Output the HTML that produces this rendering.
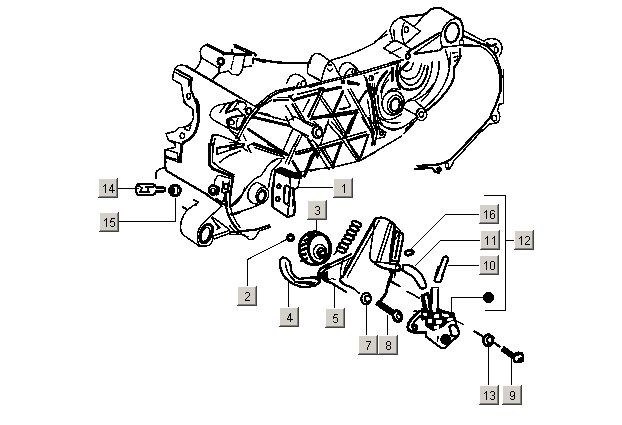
<!DOCTYPE html>
<html><head><meta charset="utf-8">
<style>
html,body{margin:0;padding:0;background:#fff;}
body{width:622px;height:425px;position:relative;overflow:hidden;font-family:"Liberation Sans",sans-serif;}
svg{position:absolute;left:0;top:0;}
svg *{stroke-width:1.55;}
#leaders *{stroke-width:1;}
#leaders .dg{stroke-width:1;}
svg path,svg ellipse,svg circle,svg line,svg polyline{vector-effect:non-scaling-stroke;}
.t{stroke-width:2.3;}
.t3{stroke-width:3;}
.f{fill:#000;}
.d{stroke-dasharray:3 2;}
</style></head><body>
<svg width="622" height="425" viewBox="0 0 622 425" fill="none" stroke="#000" stroke-width="1" stroke-linecap="round" stroke-linejoin="round" shape-rendering="crispEdges">
<!--LEADERS-->
<g id="leaders" stroke-width="1" shape-rendering="crispEdges">
<path d="M118 188.5H139"/>
<path d="M119 221.5H175.5V198"/>
<path d="M334 187.5H296"/>
<path d="M316.5 220V232"/>
<path d="M247.5 287V260"/><path class="dg" d="M247.5 259.5L286.5 239.5"/>
<path d="M288.5 308V281"/>
<path d="M334.5 309V283"/>
<path d="M366.5 336V305"/>
<path d="M387.5 336V315"/>
<path d="M480 214.5H446"/><path class="dg" d="M445.5 214.5L410.5 249.5"/>
<path d="M481 240.5H440.5"/><path class="dg" d="M440.5 240.5L415.5 265.5"/>
<path d="M480 265.5H448"/>
<path d="M484 195.5H505.5V310.5H485"/>
<path d="M505 240.5H515"/>
<path d="M483 297.5H451.5V312"/>
<path d="M488.5 386V346"/>
<path d="M511.5 386V358"/>
</g>
<circle cx="488.5" cy="297.5" r="5.5" fill="#000" stroke="none"/>
<g transform="translate(195,36) scale(0.11290)">
<path class="t3" d="M112,80 L246,147"/>
<path d="M110,76 C80,82 55,100 45,135 L55,190 L185,268 C195,282 212,286 226,276"/>
<ellipse cx="228" cy="225" rx="31" ry="36"/>
<ellipse cx="228" cy="225" rx="19" ry="23"/>
<path d="M246,147 L252,170"/>
<path class="t3" d="M250,155 L490,166"/>
<path class="t" d="M350,78 L535,160 L535,172"/>
<path d="M350,78 L350,95 L490,160"/>
<path d="M390,92 L475,135"/>
<path d="M330,120 L330,150"/>
<path d="M55,190 C50,230 30,270 0,295"/>
<path class="t" d="M0,312 L190,420"/>
<path class="t" d="M216,276 L210,330 L165,378"/>
<path d="M210,330 L300,310 L330,340 L385,345 L415,310 L440,190 L446,170"/>
<path class="d" d="M345,180 L320,292"/>
<path d="M430,275 L500,265"/>
<path d="M515,200 L515,245 M515,205 L560,215 L620,235"/>
</g>
<g transform="translate(150,56) scale(0.14587)">
<path d="M250,70 C225,60 195,62 180,75 C165,90 160,110 155,160 L215,195 L222,245 L235,320 L295,365 L298,425"/>
<path class="t" d="M185,95 L285,150 L280,230 L300,280 L325,340 L328,425"/>
<path d="M172,112 L268,162 L266,205"/>
<ellipse cx="265" cy="276" rx="12" ry="20"/>
<path class="t" d="M250,70 L617,285"/>
</g>
<g transform="translate(150,100) scale(0.14587)">
<path d="M235,0 L245,30 L290,60 L298,120 C295,150 280,170 240,185 L200,190 L175,215 L110,230 L125,275 L170,300 L175,325 L105,340 L100,380 L110,425"/>
<path class="t3" d="M320,0 L335,50 L335,120 C330,180 310,240 270,270 L230,290 L215,310 L210,425"/>
<path d="M240,185 L280,172 L268,210 L235,198"/>
<ellipse cx="222" cy="245" rx="15" ry="18"/>
<path d="M125,275 L175,288 L212,300 M110,340 L185,362 L198,425 M100,380 L150,400 L190,410"/>
<path d="M617,5 L470,35 C440,45 415,70 412,100 C412,120 430,135 450,145 L540,195 L600,260 L617,275"/>
<path d="M520,30 L480,85 M560,25 L520,90 M600,20 L565,75"/>
<path d="M430,240 L470,240 L600,290"/>
<path class="t" d="M430,240 L415,300 L405,425"/>
<path d="M447,262 L432,330 L427,425"/>
<path class="t" d="M460,330 L617,300"/>
<path d="M460,330 L460,372 L617,322"/>
<path d="M480,425 C520,390 570,365 617,350"/>
</g>
<g transform="translate(150,144) scale(0.14587)">
<path d="M100,40 L105,160 C80,165 50,175 40,195 L38,232"/>
<path class="t" d="M40,200 L40,232"/>
<path class="t" d="M215,0 L210,118"/>
<path d="M210,118 L190,122 L108,92"/>
<path class="t" d="M105,160 L112,182 L200,235 L380,340 L400,352"/>
<path class="t3" d="M410,0 L405,140 L430,170 L570,225"/>
<path d="M432,0 L427,120 L460,150 M440,130 L470,160 L575,212"/>
<path d="M470,215 C450,230 440,260 440,285"/>
<ellipse class="t" cx="432" cy="316" rx="28" ry="33"/>
<ellipse cx="432" cy="320" rx="13" ry="16"/>
<path d="M445,285 L475,300 L470,340 L455,350"/>
<path d="M480,215 L545,235 L572,240 L560,300 L545,425"/>
<ellipse class="t" cx="522" cy="292" rx="14" ry="18"/>
<path d="M500,260 L492,330 L520,342 L530,425 M545,250 L535,330"/>
<path class="t" d="M455,375 L500,410 L525,425"/>
<path d="M300,385 L330,395 L315,420"/>
<path class="t" d="M617,370 L560,422"/>
</g>
<g transform="translate(0,0) scale(1.00000)">
<path class="t" d="M139,184 H152 C154,184 155.5,186 156,187.5 L164,187.5 C165.5,188 165.5,191 164,191.5 L156,191.5 C155.5,193 154,195 152,195 H139 C137,195 136,192 136,189.5 C136,187 137,184 139,184Z"/>
<path d="M139,186 L142,188 L141,190 M140,192 H149 M146,187 H153 M148,187 V192"/>
<ellipse class="t3" cx="175" cy="190.5" rx="5.4" ry="5.4"/>
<ellipse class="f" cx="172.6" cy="190.5" rx="1.6" ry="3.6"/>
<path d="M177.5,187.5 V194"/>
</g>
<g transform="translate(230,56) scale(0.14587)">
<path d="M160,15 L160,45"/>
<path class="t" d="M160,18 L330,45 L535,50"/>
<path d="M535,50 L562,0 M535,50 L530,120 L617,165"/>
<path d="M390,185 C400,150 420,125 450,125 C480,125 500,145 520,165"/>
<ellipse cx="505" cy="192" rx="17" ry="20"/>
<path d="M472,180 L455,215 L430,235"/>
<path class="t" d="M150,425 C200,350 260,280 330,250 L430,225 L617,190"/>
<path d="M128,410 C190,330 250,270 320,238 L440,213"/>
<path d="M0,245 L80,290 L170,345 L200,328"/>
<path class="t" d="M300,305 L400,300"/>
<path d="M330,285 L400,285 L432,265 M400,270 L440,310"/>
<path d="M190,385 L260,400 L300,425"/>
</g>
<g transform="translate(230,100) scale(0.14587)">
<path d="M285,0 L200,55 L150,110 L100,190 L60,265 L45,300"/>
<path d="M240,10 L175,55 L125,115 L80,190 L40,262"/>
<path class="t3" d="M160,118 L405,175"/>
<path d="M195,90 L400,145 L408,170"/>
<path class="t3" d="M125,200 L380,370"/>
<path class="t" d="M150,300 L360,375"/>
<path d="M165,295 L365,365 M130,312 L150,300 M120,312 L145,360 M90,240 L110,280"/>
<path d="M0,210 L50,232 M0,290 L90,300"/>
<path class="t" d="M0,330 L80,320 L95,300"/>
<path d="M0,380 L50,360 M80,320 L120,350"/>
<path d="M400,145 L440,115 L590,172 M405,175 L440,200 L540,250"/>
<path d="M290,425 L330,400 L372,400"/>
</g>
<g transform="translate(205,92) scale(0.09646)">
<path class="t" d="M215,215 L340,175"/>
<path d="M330,80 L280,130 L215,215 M270,110 L215,195"/>
<path d="M345,125 C350,98 400,92 422,120 C435,140 425,165 405,178"/>
<ellipse class="t" cx="455" cy="200" rx="27" ry="34"/>
<path class="t" d="M230,320 C220,290 250,265 300,258 L400,240 C420,245 425,265 415,290 L385,360 C370,385 335,395 315,385 L240,350 Z"/>
<ellipse cx="275" cy="315" rx="26" ry="24"/>
<path d="M340,275 C330,300 320,340 330,370 C350,380 375,350 385,320 L410,260"/>
<path d="M340,175 L400,240"/>
</g>
<g transform="translate(230,144) scale(0.14587)">
<path d="M335,100 C300,105 260,140 235,185 L210,220 C170,230 130,270 100,320 C70,370 30,400 0,425"/>
<path d="M355,110 C340,140 300,160 285,190 L270,260 L265,300"/>
<ellipse cx="222" cy="352" rx="42" ry="56" transform="rotate(18 222 352)"/>
<ellipse cx="218" cy="356" rx="28" ry="42" transform="rotate(18 218 356)"/>
<ellipse cx="216" cy="358" rx="20" ry="32" transform="rotate(18 216 358)"/>
<path d="M185,262 C140,280 112,330 125,372 C135,398 160,412 190,410 M185,262 L240,292"/>
<path class="t" d="M310,180 L300,250 L290,425"/>
<path class="f" d="M350,162 L490,215 L485,238 L400,225 L318,192 L312,180Z"/>
<path d="M410,230 L415,300 L440,310 L430,425 M480,230 L465,300 L440,310"/>
<ellipse class="t" cx="335" cy="290" rx="11" ry="13"/>
<ellipse class="t" cx="327" cy="378" rx="12" ry="14"/>
<path class="t" d="M375,292 C385,280 400,285 410,300 L405,400 L385,412 L370,395 Z"/>
<path d="M440,0 L380,130 M460,0 L400,140"/>
<path class="t3" d="M430,120 L490,220 M560,80 L510,220"/>
<path d="M617,170 L555,185 M590,0 L617,60 M560,10 L600,100"/>
<path d="M150,0 L380,70 M170,25 L370,90"/>
<path class="t3" d="M265,0 L390,70"/>
<path d="M120,20 L145,60 M0,75 L50,60 M0,40 L100,10"/>
<path class="t" d="M460,70 L540,50"/>
<path class="t" d="M0,215 L20,225 L10,290 L0,370"/>
</g>
<g transform="translate(150,188) scale(0.14587)">
<path class="t" d="M225,130 L255,150"/>
<path d="M300,80 L332,97 L255,150 C225,190 200,240 212,295 L225,320 L340,400 L400,395 C420,385 430,360 432,340"/>
<path class="t" d="M380,40 L480,108 L490,125"/>
<path d="M490,125 L380,225 C340,260 318,300 325,350 C328,375 335,392 345,400"/>
<ellipse class="t3" cx="385" cy="312" rx="38" ry="68" transform="rotate(22 385 312)"/>
<ellipse cx="380" cy="318" rx="27" ry="50" transform="rotate(22 380 318)"/>
<path d="M430,330 L545,290 M440,350 L560,305 M430,200 L545,285 M425,205 L470,275 M455,250 L480,270 L460,282"/>
<path d="M490,125 L500,90 L520,30"/>
<path class="t" d="M520,30 C510,120 530,220 617,300"/>
<path d="M545,20 C540,110 560,200 617,270"/>
<path d="M617,60 L550,125 M617,170 L560,185"/>
</g>
<g transform="translate(230,188) scale(0.14587)">
<path class="t" d="M290,0 L292,130 L395,200 L440,185 L445,120 L430,0"/>
<path d="M400,130 L395,200 M375,0 L370,95 L395,120 L407,125 L410,0"/>
<path d="M100,0 C90,60 50,110 0,130"/>
<path d="M0,180 C60,165 120,150 175,125 L210,110"/>
<path d="M0,200 C10,240 30,270 60,300 M0,260 C20,290 40,310 70,320"/>
<path class="t" d="M0,300 L60,300 L130,290 L180,285 L270,255"/>
<path d="M270,255 L275,270 L200,295 L185,320 C175,345 150,360 125,350 L100,320 L0,320 M60,300 C80,320 100,335 125,332"/>
<circle style="stroke-width:3.4" cx="415" cy="340" r="19"/>
</g>
<g transform="translate(240,225) scale(0.14587)">
<ellipse class="t3" cx="510" cy="160" rx="104" ry="113"/>
<ellipse class="t3" cx="546" cy="163" rx="76" ry="99"/>
<ellipse cx="548" cy="183" rx="44" ry="50"/>
<ellipse class="t" cx="557" cy="189" rx="26" ry="31"/>
<path class="t" d="M575,175 C555,170 545,190 552,205 C560,215 575,210 580,200"/>
<path class="t3" d="M412,212 L450,198 M414,176 L454,160 M424,140 L464,122 M444,106 L484,90 M470,78 L508,66 M422,244 L458,232"/>
<path class="t" d="M617,265 C570,280 540,300 540,330 C545,360 580,385 617,395"/>
<path d="M617,285 C590,295 565,310 565,335 C570,355 595,370 617,375"/>
<path class="t" d="M290,222 C275,235 270,250 273,262 C275,290 280,310 290,330 C300,350 312,368 330,380 C345,392 360,402 375,409 C400,420 420,425 443,426 C470,425 490,420 511,414 C530,405 545,395 550,386 L545,363 C535,358 520,357 511,358 L465,363 L409,369 C395,365 385,360 375,352 C365,340 358,330 353,318 C348,300 347,285 347,273 C345,258 340,248 330,239 C318,228 302,220 290,222 Z"/>
<path class="t" d="M380,390 L511,396"/>
<path d="M312,262 C315,310 335,350 372,378 M400,400 L500,405"/>
</g>
<g transform="translate(310,30) scale(0.14587)">
<path d="M0,230 L10,180 L40,160 L70,165 L140,215 C120,220 110,240 100,270 L75,350 L0,310"/>
<path d="M123,268 C125,285 150,285 153,265 M128,240 L150,240"/>
<path d="M140,215 C160,225 175,250 185,280 L215,325"/>
<path d="M200,285 C205,250 225,225 255,222 C285,222 300,245 320,265 L350,300 M240,310 C250,280 270,265 295,262 M320,265 L312,300 L290,310"/>
<ellipse cx="300" cy="288" rx="11" ry="18"/>
<path d="M150,205 C250,180 350,140 440,90 L525,5 M445,78 L530,30"/>
<path d="M575,0 L580,70 L617,85 M580,70 L505,125 L617,190"/>
<path d="M0,392 L100,362 L350,302 L617,222"/>
<path d="M0,375 L350,288 L617,208"/>
<ellipse cx="228" cy="355" rx="10" ry="12"/>
<path class="t" d="M260,350 L330,368"/>
<path class="t3" d="M120,410 L210,395"/>
<path d="M70,395 L60,425 M90,400 L85,425"/>
<path d="M370,310 L400,375 L390,425 M440,302 L470,290"/>
<ellipse cx="420" cy="330" rx="14" ry="18"/>
<path d="M530,290 C490,330 460,380 450,425 M560,280 C520,330 490,390 485,425"/>
<path class="t" d="M600,240 C590,300 600,380 617,400"/>
<path d="M617,260 L600,340 M530,425 L570,400 L617,410"/>
</g>
<g transform="translate(390,5) scale(0.14587)">
<path class="t" d="M70,85 L240,65 L280,30 C300,20 330,18 350,22 L480,100"/>
<path d="M70,85 C40,100 15,125 5,150 L0,175 L20,250"/>
<path d="M70,85 L210,180 L165,215 L100,275 M100,120 C85,140 80,180 85,220 L100,275 M240,65 L172,140"/>
<ellipse cx="112" cy="170" rx="14" ry="20"/>
<path class="t" d="M480,100 C500,130 505,170 500,210 L492,240"/>
<path d="M480,100 C440,80 390,110 365,160 C345,200 340,250 360,290"/>
<ellipse class="t" cx="425" cy="190" rx="46" ry="68" transform="rotate(12 425 190)"/>
<ellipse cx="490" cy="257" rx="14" ry="19"/>
<path d="M505,175 L617,235"/>
<path class="t" d="M510,215 L617,260 M500,277 L617,280"/>
<path class="t" d="M120,322 L340,190"/>
<path d="M165,332 L350,202"/>
<path d="M100,275 L140,300 L130,330"/>
<ellipse class="t" cx="122" cy="352" rx="13" ry="17"/>
<path d="M0,250 L50,245 L140,300 M0,330 L80,290"/>
<path class="t" d="M0,400 L90,375"/>
<path class="t d" d="M170,335 L340,310 L360,290"/>
<path d="M360,290 L480,277"/>
<path d="M380,310 C395,350 405,390 405,425 M480,300 C485,340 470,390 440,425"/>
<path d="M430,330 L460,325 M435,360 L465,350 L460,380 L440,385"/>
</g>
<g transform="translate(390,50) scale(0.14587)">
<path class="t" d="M485,40 L462,90 L440,120 L440,180 C420,260 350,340 240,425"/>
<path d="M415,20 L410,100 C405,200 340,320 230,400"/>
</g>
<g transform="translate(370,62) scale(0.11290)">
<path class="t3" d="M200,55 L195,165"/>
<path class="t" d="M250,20 C225,90 215,170 300,235 C340,255 420,245 455,205 C485,165 508,110 512,40"/>
<path d="M270,30 C255,100 270,170 345,205 C400,215 455,160 486,30"/>
<path d="M286,62 C300,85 340,90 363,62 L385,10"/>
<path d="M267,113 C290,150 350,165 402,133 C430,110 445,70 455,20"/>
<path class="t3" d="M254,88 L338,4"/>
<path d="M338,339 C402,320 470,260 510,180 C540,110 552,50 551,0"/>
<path d="M612,0 C618,60 600,150 557,217 C530,270 490,320 454,345"/>
<path class="t" d="M150,80 C110,110 60,190 40,290"/>
<path d="M120,110 C90,150 60,220 55,290 M165,160 C130,190 100,250 100,320"/>
<path d="M20,130 C8,150 10,172 25,160"/>
</g>
<g transform="translate(370,84) scale(0.11290)">
<ellipse cx="205" cy="168" rx="98" ry="108" transform="rotate(15 205 168)"/>
<ellipse cx="220" cy="180" rx="65" ry="82" transform="rotate(15 220 180)"/>
<ellipse class="t" cx="222" cy="184" rx="40" ry="58" transform="rotate(15 222 184)"/>
<path d="M300,180 L330,150 L395,145 L470,210 M300,215 L400,270 L430,240"/>
<path d="M395,145 C460,120 520,70 560,0"/>
<path class="t" d="M390,340 L316,402"/>
<path d="M425,300 L361,379 L300,440"/>
<path d="M40,0 C30,100 50,250 100,345 C130,400 200,420 250,400 C310,385 370,330 420,285"/>
<path d="M70,100 C70,200 80,280 130,310 C170,325 220,310 280,265"/>
<path class="t" d="M0,0 L30,200 L60,425"/>
<path d="M20,0 L50,200 L85,425"/>
</g>
<g transform="translate(310,74) scale(0.14587)">
<path class="t" d="M385,30 L400,110 L430,200 L450,330 L460,400"/>
<path d="M410,100 L440,330"/>
<path class="d" d="M395,180 L420,330"/>
<ellipse cx="492" cy="410" rx="10" ry="10"/>
</g>
<g transform="translate(310,118) scale(0.14587)">
<path class="t" d="M360,0 L420,90 L440,180"/>
<path d="M430,30 L460,100 L442,190 M460,60 L520,100 L510,130 L462,142"/>
<ellipse cx="490" cy="105" rx="11" ry="11"/>
<path d="M470,30 C510,70 560,80 617,70 M480,0 C520,30 570,40 617,30"/>
<path d="M340,292 L496,202 L629,123"/>
</g>
<g transform="translate(390,94) scale(0.14587)">
<ellipse cx="215" cy="140" rx="37" ry="42"/>
<ellipse cx="215" cy="140" rx="15" ry="18"/>
<path class="t" d="M150,200 L120,240"/>
<path class="t" d="M617,240 L445,420"/>
<path d="M617,265 L470,425"/>
</g>
<g transform="translate(465,15) scale(0.14587)">
<path d="M90,160 L130,180"/>
<path class="t" d="M90,190 C150,200 190,240 215,290 L240,360 L252,425"/>
<path d="M90,210 C140,225 175,260 200,300 L230,370 L238,425"/>
<path d="M130,180 C150,160 200,150 235,180 C260,205 260,250 235,282"/>
<ellipse cx="215" cy="240" rx="13" ry="20"/>
<path class="t" d="M150,195 L180,215 L210,200"/>
</g>
<g transform="translate(440,70) scale(0.14587)">
<path class="t3" d="M418,0 L418,140"/>
<path d="M435,0 L435,230 L405,235 L395,280 C415,300 415,340 395,360 L340,372 L280,425"/>
<path class="t" d="M415,140 L390,220 L340,330 L260,425"/>
<ellipse cx="372" cy="330" rx="17" ry="19"/>
</g>
<g transform="translate(400,125) scale(0.14587)">
<path class="t" d="M380,205 L350,235 C320,255 280,270 230,275 L120,280"/>
<path d="M400,215 L370,245 L360,270 L340,300 L318,300"/>
<path class="t" d="M105,300 L220,295 L240,320 L270,328"/>
<ellipse cx="322" cy="278" rx="11" ry="15"/>
<ellipse class="t" cx="268" cy="303" rx="11" ry="11"/>
</g>
<g transform="translate(310,215) scale(0.14587)">
<g class="sp">
<ellipse class="t" cx="320" cy="62" rx="33" ry="15" transform="rotate(22 320 62)"/>
<ellipse class="t" cx="303" cy="92" rx="33" ry="15" transform="rotate(22 303 92)"/>
<ellipse class="t" cx="286" cy="122" rx="33" ry="15" transform="rotate(22 286 122)"/>
<ellipse class="t" cx="268" cy="152" rx="33" ry="15" transform="rotate(22 268 152)"/>
<ellipse class="t" cx="250" cy="182" rx="33" ry="15" transform="rotate(22 250 182)"/>
<ellipse class="t" cx="232" cy="212" rx="33" ry="15" transform="rotate(22 232 212)"/>
<ellipse class="t" cx="214" cy="240" rx="33" ry="15" transform="rotate(22 214 240)"/>
</g>
<path d="M190,240 L165,270"/>
<path class="t" d="M455,20 L225,425"/>
<path d="M475,38 L255,425 M440,30 L235,395"/>
<path class="t" d="M280,270 L70,370 L55,400 L60,425"/>
<path d="M285,292 L100,378 L90,410"/>
<path class="f" d="M70,395 L120,392 L120,425 L70,425Z"/>
<path d="M230,300 C215,340 205,380 210,425 M270,300 L240,360 L225,425"/>
<path class="t" d="M445,30 C470,10 520,10 580,65 L560,200 L545,330"/>
<path d="M445,30 L410,280 C410,305 425,320 445,322 L545,330"/>
<path d="M540,60 L460,310 M560,70 L480,320"/>
<path d="M580,65 L617,110 M545,330 L617,350 M590,340 L580,425"/>
<path class="d" d="M560,200 L617,120 M575,120 L555,320"/>
<path class="t" d="M445,322 C460,350 500,380 617,380"/>
</g>
<g transform="translate(310,260) scale(0.14587)">
<path class="t" d="M60,85 L60,110 L100,130 L250,220"/>
<path class="t" d="M215,110 L205,140 L230,165 L300,195"/>
<path d="M300,195 L340,230 M150,125 L170,135"/>
<ellipse class="t" cx="385" cy="265" rx="33" ry="38"/>
<path class="t" d="M405,250 C385,240 370,255 375,275 C380,290 400,290 408,280"/>
<path class="t3 d" d="M560,100 L545,135 L520,230 L475,292"/>
<path d="M617,60 L560,75 L545,135 L617,180"/>
<path class="t d" d="M420,0 C450,40 520,70 617,70"/>
<path class="t" d="M0,125 C30,120 55,130 62,150 C55,172 30,180 0,182"/>
<path class="f" d="M470,277 L572,345 L553,373 L452,305Z"/>
<ellipse class="t3" cx="598" cy="385" rx="28" ry="38" transform="rotate(-20 598 385)"/>
<ellipse cx="608" cy="388" rx="12" ry="20" transform="rotate(-20 608 388)"/>
</g>
<g transform="translate(390,215) scale(0.14587)">
<ellipse class="t3" cx="132" cy="258" rx="28" ry="16" transform="rotate(-15 132 258)"/>
<path class="t" d="M365,295 L315,425 M400,300 L355,425 M365,295 C370,280 395,280 400,300"/>
<path class="t" d="M90,345 C120,330 160,350 210,400 L225,425"/>
<path class="t" d="M90,345 L85,380 C110,395 140,410 160,425"/>
<path class="t" d="M0,55 C15,50 30,65 30,85 L40,110 L85,125 L90,160 L55,330 L70,360 L60,380 L0,385"/>
<path class="t d" d="M40,110 L10,290 M65,140 L35,300"/>
<path d="M0,340 L55,330"/>
</g>
<g transform="translate(390,260) scale(0.14587)">
<path class="t" d="M225,116 C240,140 246,160 248,178 C245,198 218,202 205,188 C185,150 165,125 160,116"/>
<path class="t" d="M330,50 L305,140 M375,60 L350,145 M305,140 C310,155 340,158 350,145"/>
<path d="M288,190 L293,300 M332,190 L328,310 M288,190 L332,190"/>
<path class="t3" d="M220,245 L260,230 L275,300 M220,245 L240,320"/>
<path d="M120,215 L200,260 M165,352 L185,352"/>
<path class="t" d="M0,0 L45,10 L70,55 L20,90 L0,85"/>
<path d="M20,90 L5,150 L65,180"/>
</g>
<g transform="translate(400,290) scale(0.14109)">
<path class="t3" d="M155,45 L185,30 L205,35 L215,150 M155,45 L175,140"/>
<path class="t" d="M170,60 L190,140"/>
<path d="M220,0 L222,130 M268,0 L268,130"/>
<path class="f" stroke="none" d="M150,125 L215,150 L265,125 L330,150 L385,158 L395,212 L340,232 L310,262 L235,292 L185,262 L145,200Z"/>
<g fill="#fff" stroke="none">
<path d="M235,135 L258,135 L258,155 L235,155Z"/>
<path d="M165,160 L190,165 L190,185 L165,180Z"/>
<path d="M240,175 L275,170 L280,195 L245,200Z"/>
<path d="M300,165 L350,175 L345,195 L300,185Z"/>
<path d="M195,205 L225,205 L225,235 L200,235Z"/>
<path d="M255,215 L300,210 L300,235 L260,245Z"/>
<path d="M330,205 L375,195 L380,212 L335,222Z"/>
<path d="M240,255 L275,250 L275,275 L245,280Z"/>
<path d="M160,215 L180,215 L180,245 L165,240Z"/>
</g>
<path class="t3" d="M140,150 C100,180 60,220 55,260 C55,290 80,300 110,300 L180,300"/>
<path class="t" d="M150,182 C120,200 85,235 85,265"/>
<ellipse class="t3" cx="105" cy="268" rx="13" ry="18"/>
<path class="t" d="M180,300 L185,330 L290,410 L320,410 L370,360 L410,330 L420,300 L400,250 L390,200"/>
<ellipse class="f" cx="325" cy="350" rx="34" ry="34"/>
<path class="t" d="M350,260 C370,240 400,250 410,280 L420,310 C410,330 380,335 365,320 Z"/>
<path d="M270,330 L265,360"/>
<path d="M400,220 L450,245 M530,295 L567,320 M50,10 L130,55 M100,150 L120,150"/>
</g>
<g transform="translate(465,320) scale(0.11290)">
<path class="t" d="M85,100 L155,145 M255,200 L305,235"/>
<ellipse class="t3" cx="205" cy="180" rx="40" ry="50"/>
<path class="t" d="M258,162 C235,138 200,145 195,175 C195,200 215,215 238,205"/>
<path class="f" d="M346,239 L431,299 L408,331 L323,271Z"/>
<path class="f" d="M430,300 L470,285 L510,295 L520,320 L518,365 L470,378 L435,370 L425,340 Z"/>
<path stroke="#fff" class="t" d="M452,332 L492,320 M462,332 L456,352"/>
</g>
<g transform="translate(286,78) scale(0.12945)">
<path d="M90,125 L290,75"/>
<path class="t3" d="M70,165 L250,115"/>
<path class="t3" d="M300,100 L420,70"/>
<path class="t3" d="M480,40 L560,47"/>
<ellipse cx="440" cy="35" rx="9" ry="10"/>
<path class="t" d="M272,88 L172,298"/>
<path d="M296,85 L196,305"/>
<path d="M258,150 L350,285 M275,140 L365,270"/>
<path class="t3" d="M440,105 L365,270"/>
<path d="M480,90 L618,335 M500,85 L618,295"/>
<path d="M455,135 L500,220 L420,245"/>
<path class="t" d="M420,240 L450,235"/>
<path d="M200,305 L560,245"/>
<path class="t3" d="M330,300 L550,265"/>
<path class="t" d="M190,320 L330,295"/>
<path class="t3" d="M540,275 L480,425"/>
<path d="M365,310 L440,425 M385,305 L460,425"/>
<path d="M215,335 L290,425 M330,320 L300,425"/>
<path class="t" d="M50,205 L130,335"/>
<path d="M70,200 L145,325"/>
<path d="M180,165 L130,260"/>
<path d="M0,215 L40,280 L60,330 M0,300 L20,340 M40,425 L60,390 L120,425 M130,335 L200,370 L250,360"/>
<path class="t" d="M618,100 L560,190"/>
</g>
<g transform="translate(296,118) scale(0.12945)">
<path d="M170,215 L365,155 L545,105"/>
<path class="t3" d="M200,232 L350,190 M400,175 L545,130"/>
<path d="M245,40 L360,170 L475,335 M275,30 L390,165 L505,325"/>
<path class="t3" d="M440,0 L375,145 M350,192 L282,380"/>
<path class="t" d="M400,180 L490,332 L560,130"/>
<path d="M200,238 L285,388 M215,232 L298,375"/>
<path d="M0,425 L110,400 L280,382 L490,332 L618,262"/>
<path d="M100,180 L160,250 L255,400 M130,170 L185,235 L285,385"/>
<path d="M235,50 L195,190 L150,250"/>
<path class="t3" d="M150,250 L75,410"/>
<ellipse class="t" cx="165" cy="110" rx="38" ry="46"/>
<path d="M182,85 C150,90 140,130 172,140"/>
<path class="t" d="M0,280 L130,245"/>
<path d="M0,262 L120,230"/>
<path d="M0,90 L120,180"/>
<path class="t" d="M560,0 L600,110 L590,210"/>
</g>
<g transform="translate(276,118) scale(0.12712)">
<path d="M180,140 L140,225 M205,135 L160,225"/>
<path d="M130,90 L60,250"/>
<path class="t" d="M250,170 L285,220 L330,300"/>
<path class="t" d="M300,290 L240,425"/>
</g>
<g stroke="none" shape-rendering="crispEdges">
<g role="img" aria-label="14"><title>14</title>
<path fill="#fff" d="M98 178h19v1h-18v18h-1z"/>
<rect x="99" y="179" width="17" height="17" fill="#d4d0c8"/>
<path fill="#808080" d="M116 179h1v18h-18v-1h17z"/>
<path fill="#404040" d="M117 178h1v20h-20v-1h19z"/>
<path fill="#000" d="M105 184h1v1h-1zM104 185h2v1h-2zM103 186h1v1h-1zM105 186h1v1h-1zM105 187h1v1h-1zM105 188h1v1h-1zM105 189h1v1h-1zM105 190h1v1h-1zM105 191h1v1h-1zM105 192h1v1h-1zM112 184h1v1h-1zM111 185h2v1h-2zM111 186h2v1h-2zM110 187h1v1h-1zM112 187h1v1h-1zM110 188h1v1h-1zM112 188h1v1h-1zM109 189h1v1h-1zM112 189h1v1h-1zM109 190h6v1h-6zM112 191h1v1h-1zM112 192h1v1h-1z"/></g>
<g role="img" aria-label="15"><title>15</title>
<path fill="#fff" d="M99 212h19v1h-18v18h-1z"/>
<rect x="100" y="213" width="17" height="17" fill="#d4d0c8"/>
<path fill="#808080" d="M117 213h1v18h-18v-1h17z"/>
<path fill="#404040" d="M118 212h1v20h-20v-1h19z"/>
<path fill="#000" d="M106 218h1v1h-1zM105 219h2v1h-2zM104 220h1v1h-1zM106 220h1v1h-1zM106 221h1v1h-1zM106 222h1v1h-1zM106 223h1v1h-1zM106 224h1v1h-1zM106 225h1v1h-1zM106 226h1v1h-1zM111 218h4v1h-4zM111 219h1v1h-1zM110 220h1v1h-1zM110 221h4v1h-4zM110 222h1v1h-1zM114 222h1v1h-1zM114 223h1v1h-1zM114 224h1v1h-1zM110 225h1v1h-1zM114 225h1v1h-1zM111 226h3v1h-3z"/></g>
<g role="img" aria-label="1"><title>1</title>
<path fill="#fff" d="M333 178h19v1h-18v18h-1z"/>
<rect x="334" y="179" width="17" height="17" fill="#d4d0c8"/>
<path fill="#808080" d="M351 179h1v18h-18v-1h17z"/>
<path fill="#404040" d="M352 178h1v20h-20v-1h19z"/>
<path fill="#000" d="M344 184h1v1h-1zM343 185h2v1h-2zM342 186h1v1h-1zM344 186h1v1h-1zM344 187h1v1h-1zM344 188h1v1h-1zM344 189h1v1h-1zM344 190h1v1h-1zM344 191h1v1h-1zM344 192h1v1h-1z"/></g>
<g role="img" aria-label="3"><title>3</title>
<path fill="#fff" d="M307 200h19v1h-18v18h-1z"/>
<rect x="308" y="201" width="17" height="17" fill="#d4d0c8"/>
<path fill="#808080" d="M325 201h1v18h-18v-1h17z"/>
<path fill="#404040" d="M326 200h1v20h-20v-1h19z"/>
<path fill="#000" d="M316 206h3v1h-3zM315 207h1v1h-1zM319 207h1v1h-1zM319 208h1v1h-1zM319 209h1v1h-1zM317 210h2v1h-2zM319 211h1v1h-1zM319 212h1v1h-1zM315 213h1v1h-1zM319 213h1v1h-1zM316 214h3v1h-3z"/></g>
<g role="img" aria-label="2"><title>2</title>
<path fill="#fff" d="M237 286h19v1h-18v18h-1z"/>
<rect x="238" y="287" width="17" height="17" fill="#d4d0c8"/>
<path fill="#808080" d="M255 287h1v18h-18v-1h17z"/>
<path fill="#404040" d="M256 286h1v20h-20v-1h19z"/>
<path fill="#000" d="M246 292h3v1h-3zM245 293h1v1h-1zM249 293h1v1h-1zM249 294h1v1h-1zM249 295h1v1h-1zM248 296h1v1h-1zM247 297h1v1h-1zM246 298h1v1h-1zM245 299h1v1h-1zM245 300h5v1h-5z"/></g>
<g role="img" aria-label="4"><title>4</title>
<path fill="#fff" d="M279 307h19v1h-18v18h-1z"/>
<rect x="280" y="308" width="17" height="17" fill="#d4d0c8"/>
<path fill="#808080" d="M297 308h1v18h-18v-1h17z"/>
<path fill="#404040" d="M298 307h1v20h-20v-1h19z"/>
<path fill="#000" d="M290 313h1v1h-1zM289 314h2v1h-2zM289 315h2v1h-2zM288 316h1v1h-1zM290 316h1v1h-1zM288 317h1v1h-1zM290 317h1v1h-1zM287 318h1v1h-1zM290 318h1v1h-1zM287 319h6v1h-6zM290 320h1v1h-1zM290 321h1v1h-1z"/></g>
<g role="img" aria-label="5"><title>5</title>
<path fill="#fff" d="M325 308h19v1h-18v18h-1z"/>
<rect x="326" y="309" width="17" height="17" fill="#d4d0c8"/>
<path fill="#808080" d="M343 309h1v18h-18v-1h17z"/>
<path fill="#404040" d="M344 308h1v20h-20v-1h19z"/>
<path fill="#000" d="M334 314h4v1h-4zM334 315h1v1h-1zM333 316h1v1h-1zM333 317h4v1h-4zM333 318h1v1h-1zM337 318h1v1h-1zM337 319h1v1h-1zM337 320h1v1h-1zM333 321h1v1h-1zM337 321h1v1h-1zM334 322h3v1h-3z"/></g>
<g role="img" aria-label="7"><title>7</title>
<path fill="#fff" d="M358 335h19v1h-18v18h-1z"/>
<rect x="359" y="336" width="17" height="17" fill="#d4d0c8"/>
<path fill="#808080" d="M376 336h1v18h-18v-1h17z"/>
<path fill="#404040" d="M377 335h1v20h-20v-1h19z"/>
<path fill="#000" d="M366 341h5v1h-5zM370 342h1v1h-1zM369 343h1v1h-1zM369 344h1v1h-1zM368 345h1v1h-1zM368 346h1v1h-1zM367 347h1v1h-1zM367 348h1v1h-1zM367 349h1v1h-1z"/></g>
<g role="img" aria-label="8"><title>8</title>
<path fill="#fff" d="M378 335h19v1h-18v18h-1z"/>
<rect x="379" y="336" width="17" height="17" fill="#d4d0c8"/>
<path fill="#808080" d="M396 336h1v18h-18v-1h17z"/>
<path fill="#404040" d="M397 335h1v20h-20v-1h19z"/>
<path fill="#000" d="M387 341h3v1h-3zM386 342h1v1h-1zM390 342h1v1h-1zM386 343h1v1h-1zM390 343h1v1h-1zM386 344h1v1h-1zM390 344h1v1h-1zM387 345h3v1h-3zM386 346h1v1h-1zM390 346h1v1h-1zM386 347h1v1h-1zM390 347h1v1h-1zM386 348h1v1h-1zM390 348h1v1h-1zM387 349h3v1h-3z"/></g>
<g role="img" aria-label="16"><title>16</title>
<path fill="#fff" d="M479 204h19v1h-18v18h-1z"/>
<rect x="480" y="205" width="17" height="17" fill="#d4d0c8"/>
<path fill="#808080" d="M497 205h1v18h-18v-1h17z"/>
<path fill="#404040" d="M498 204h1v20h-20v-1h19z"/>
<path fill="#000" d="M486 210h1v1h-1zM485 211h2v1h-2zM484 212h1v1h-1zM486 212h1v1h-1zM486 213h1v1h-1zM486 214h1v1h-1zM486 215h1v1h-1zM486 216h1v1h-1zM486 217h1v1h-1zM486 218h1v1h-1zM491 210h3v1h-3zM490 211h1v1h-1zM494 211h1v1h-1zM490 212h1v1h-1zM490 213h1v1h-1zM492 213h2v1h-2zM490 214h2v1h-2zM494 214h1v1h-1zM490 215h1v1h-1zM494 215h1v1h-1zM490 216h1v1h-1zM494 216h1v1h-1zM490 217h1v1h-1zM494 217h1v1h-1zM491 218h3v1h-3z"/></g>
<g role="img" aria-label="11"><title>11</title>
<path fill="#fff" d="M480 230h19v1h-18v18h-1z"/>
<rect x="481" y="231" width="17" height="17" fill="#d4d0c8"/>
<path fill="#808080" d="M498 231h1v18h-18v-1h17z"/>
<path fill="#404040" d="M499 230h1v20h-20v-1h19z"/>
<path fill="#000" d="M487 236h1v1h-1zM486 237h2v1h-2zM485 238h1v1h-1zM487 238h1v1h-1zM487 239h1v1h-1zM487 240h1v1h-1zM487 241h1v1h-1zM487 242h1v1h-1zM487 243h1v1h-1zM487 244h1v1h-1zM494 236h1v1h-1zM493 237h2v1h-2zM492 238h1v1h-1zM494 238h1v1h-1zM494 239h1v1h-1zM494 240h1v1h-1zM494 241h1v1h-1zM494 242h1v1h-1zM494 243h1v1h-1zM494 244h1v1h-1z"/></g>
<g role="img" aria-label="10"><title>10</title>
<path fill="#fff" d="M479 255h19v1h-18v18h-1z"/>
<rect x="480" y="256" width="17" height="17" fill="#d4d0c8"/>
<path fill="#808080" d="M497 256h1v18h-18v-1h17z"/>
<path fill="#404040" d="M498 255h1v20h-20v-1h19z"/>
<path fill="#000" d="M486 261h1v1h-1zM485 262h2v1h-2zM484 263h1v1h-1zM486 263h1v1h-1zM486 264h1v1h-1zM486 265h1v1h-1zM486 266h1v1h-1zM486 267h1v1h-1zM486 268h1v1h-1zM486 269h1v1h-1zM491 261h3v1h-3zM490 262h1v1h-1zM494 262h1v1h-1zM490 263h1v1h-1zM494 263h1v1h-1zM490 264h1v1h-1zM494 264h1v1h-1zM490 265h1v1h-1zM494 265h1v1h-1zM490 266h1v1h-1zM494 266h1v1h-1zM490 267h1v1h-1zM494 267h1v1h-1zM490 268h1v1h-1zM494 268h1v1h-1zM491 269h3v1h-3z"/></g>
<g role="img" aria-label="12"><title>12</title>
<path fill="#fff" d="M514 230h19v1h-18v18h-1z"/>
<rect x="515" y="231" width="17" height="17" fill="#d4d0c8"/>
<path fill="#808080" d="M532 231h1v18h-18v-1h17z"/>
<path fill="#404040" d="M533 230h1v20h-20v-1h19z"/>
<path fill="#000" d="M521 236h1v1h-1zM520 237h2v1h-2zM519 238h1v1h-1zM521 238h1v1h-1zM521 239h1v1h-1zM521 240h1v1h-1zM521 241h1v1h-1zM521 242h1v1h-1zM521 243h1v1h-1zM521 244h1v1h-1zM526 236h3v1h-3zM525 237h1v1h-1zM529 237h1v1h-1zM529 238h1v1h-1zM529 239h1v1h-1zM528 240h1v1h-1zM527 241h1v1h-1zM526 242h1v1h-1zM525 243h1v1h-1zM525 244h5v1h-5z"/></g>
<g role="img" aria-label="13"><title>13</title>
<path fill="#fff" d="M479 385h19v1h-18v18h-1z"/>
<rect x="480" y="386" width="17" height="17" fill="#d4d0c8"/>
<path fill="#808080" d="M497 386h1v18h-18v-1h17z"/>
<path fill="#404040" d="M498 385h1v20h-20v-1h19z"/>
<path fill="#000" d="M486 391h1v1h-1zM485 392h2v1h-2zM484 393h1v1h-1zM486 393h1v1h-1zM486 394h1v1h-1zM486 395h1v1h-1zM486 396h1v1h-1zM486 397h1v1h-1zM486 398h1v1h-1zM486 399h1v1h-1zM491 391h3v1h-3zM490 392h1v1h-1zM494 392h1v1h-1zM494 393h1v1h-1zM494 394h1v1h-1zM492 395h2v1h-2zM494 396h1v1h-1zM494 397h1v1h-1zM490 398h1v1h-1zM494 398h1v1h-1zM491 399h3v1h-3z"/></g>
<g role="img" aria-label="9"><title>9</title>
<path fill="#fff" d="M502 385h19v1h-18v18h-1z"/>
<rect x="503" y="386" width="17" height="17" fill="#d4d0c8"/>
<path fill="#808080" d="M520 386h1v18h-18v-1h17z"/>
<path fill="#404040" d="M521 385h1v20h-20v-1h19z"/>
<path fill="#000" d="M511 391h3v1h-3zM510 392h1v1h-1zM514 392h1v1h-1zM510 393h1v1h-1zM514 393h1v1h-1zM510 394h1v1h-1zM514 394h1v1h-1zM510 395h1v1h-1zM513 395h2v1h-2zM511 396h2v1h-2zM514 396h1v1h-1zM514 397h1v1h-1zM510 398h1v1h-1zM514 398h1v1h-1zM511 399h3v1h-3z"/></g>
</g>
</svg>
</body></html>
